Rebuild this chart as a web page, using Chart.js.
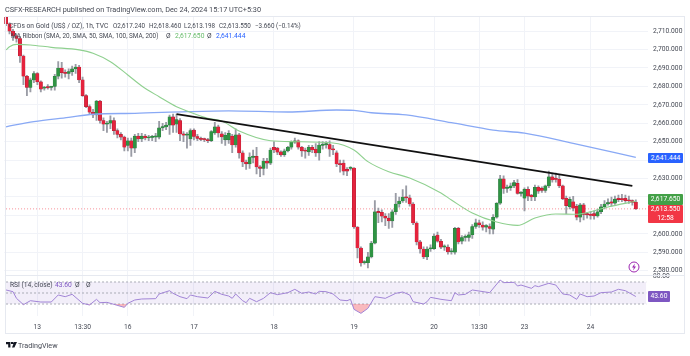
<!DOCTYPE html>
<html><head><meta charset="utf-8">
<script src="https://cdn.jsdelivr.net/npm/chart.js@4"></script>
<style>
html,body{margin:0;padding:0;background:#fff;overflow:hidden}
#wrap{position:relative;width:690px;height:356px;font-family:Roboto,sans-serif;color:#454954}
canvas{position:absolute;left:0;top:0}
.t{position:absolute;white-space:pre;font-size:6.7px;line-height:9px}
.v{font-size:6.3px}
.box{position:absolute;box-sizing:border-box}
.tag{position:absolute;left:648px;width:35px;color:#fff;font-size:6.7px;text-align:center;border-radius:1px}
</style></head><body>
<div id="wrap">
<canvas id="c" width="690" height="356"></canvas>
<div class="box" style="left:5px;top:16px;width:680px;height:318px;border:1px solid #e6e9f0"></div>
<div class="box" style="left:5px;top:275px;width:680px;height:1px;background:#e6e9f0"></div>
<div class="t" style="left:5px;top:5px;font-size:7.3px">CSFX-RESEARCH published on TradingView.com, Dec 24, 2024 15:17 UTC+5:30</div>
<div class="t" style="left:9px;top:22px">CFDs on Gold (US$ / OZ), 1h, TVC</div>
<div class="t v" style="left:113px;top:22px">O2,617.240</div>
<div class="t v" style="left:149px;top:22px">H2,618.460</div>
<div class="t v" style="left:184px;top:22px">L2,613.198</div>
<div class="t v" style="left:219px;top:22px">C2,613.550</div>
<div class="t v" style="left:255px;top:22px">−3.660 (−0.14%)</div>
<div class="t" style="left:11px;top:32px;font-size:6.4px">MA Ribbon (SMA, 20, SMA, 50, SMA, 100, SMA, 200)</div>
<div class="t" style="left:166px;top:32px">Ø</div>
<div class="t" style="left:175px;top:32px;color:#66bb6a">2,617.650</div>
<div class="t" style="left:207px;top:32px">Ø</div>
<div class="t" style="left:216px;top:32px;color:#2962ff">2,641.444</div>
<div class="t" style="left:10px;top:281px">RSI (14, close)</div>
<div class="t" style="left:55px;top:281px;color:#7e57c2">43.60</div>
<div class="t" style="left:75px;top:281px">Ø</div>
<div class="t" style="left:86px;top:281px">Ø</div>
<div class="tag" style="top:153px;height:10px;line-height:10px;background:#2962ff">2,641.444</div>
<div class="tag" style="top:194px;height:11px;line-height:11px;background:#43a047">2,617.650</div>
<div class="tag" style="top:205px;height:18px;line-height:9px;background:#f23645">2,613.550<br>12:58</div>
<div class="tag" style="top:291px;width:22px;left:648px;height:11px;line-height:11px;background:#7e57c2">43.60</div>
<svg class="box" style="left:628px;top:261px" width="12" height="12" viewBox="0 0 12 12"><circle cx="6" cy="6" r="5" fill="#fff" stroke="#9c27b0" stroke-width="1"/><path d="M6.8 2.6 4 6.6h1.8L5.2 9.4 8 5.4H6.2z" fill="#9c27b0"/></svg>
<svg class="box" style="left:6px;top:342px" width="11" height="6" viewBox="0 0 11 6"><path d="M0 0h4.4v5.5H2.2V2.2H0zM5 0h1.8a1 1 0 0 1 0 2H5zM8.2 0H11L8.4 5.5H6z" fill="#131722"/></svg>
<div class="t" style="left:18px;top:341px;font-size:7.2px">TradingView</div>
</div>
<script>
const opens=[2717.5,2714,2710,2707.5,2706,2696.5,2685.5,2679.5,2683.5,2687,2682.5,2679,2679.5,2679.5,2680,2685.5,2690,2687.5,2687,2688,2689.5,2690.5,2683.5,2675,2669,2666,2664.5,2672,2661.5,2659.5,2660,2661.5,2656,2654,2652.5,2648,2650.5,2646.5,2653,2651.5,2653,2652,2652.3,2652.5,2652.5,2657.5,2658,2659,2663.5,2659.5,
2661.5,2654.2,2653.5,2651.5,2656.3,2652.8,2651.8,2651.2,2651,2650.5,2654.7,2658,2654.2,2651,2651,2653,2648.2,2653.7,2643.9,2639,2638,2641.5,2642,2636.3,2635.5,2639.5,2638.4,2647,2646.5,2644.5,2643,2645,2647,2649.8,2650.5,2647,2645,2644.5,2647,2646,2643.9,2648,2648.3,2648.5,2646,2644,2638,2638.4,2635,2635.5,
2635.7,2603.7,2592.3,2584.3,2584.3,2587.5,2595,2612,2611.7,2609.6,2608.5,2607,2612,2616.2,2617.8,2620,2619.5,2616.2,2605.9,2595.6,2591.8,2587.5,2591.8,2592,2599.3,2596,2592.8,2592.8,2590.2,2590,2603,2596,2598,2598,2599.5,2604,2606,2604.8,2603.6,2603.9,
2602.5,2609,2616.6,2629.8,2624.7,2625,2626,2627.4,2622,2619.3,2624.2,2621,2620,2625.3,2624.7,2623.6,2626,2631,2630.2,2629.6,2626,2619.3,2614.7,2617.4,2615,2609,2615.7,2610.6,2610.5,2611,2609.7,2612,2614.7,2616.2,2617.4,2616.6,2619.3,2618.8,2619.3,2618,2618,2617.24];
const highs=[2718,2714.5,2711,2708.5,2707,2697,2686,2684.5,2688,2687.5,2683,2680,2681,2680,2686.5,2693.5,2693,2689,2689.5,2691,2692,2691.5,2685,2675.5,2670,2667.5,2672.5,2672.5,2663,2661,2664,2663,2657,2655,2653,2652,2652,2654,2654.5,2654.5,2654,2653.5,2653.5,2654.5,2661,2660,2660.5,2664.5,2665,2665,
2662.5,2655.5,2655,2657,2657,2654,2652.5,2652,2651.8,2656,2660.5,2659,2655.5,2655,2656,2654,2657,2654.5,2645,2640,2644,2645.5,2647,2637,2641,2641,2646.5,2650,2647,2645,2646,2647.5,2650.5,2652,2651,2647.5,2646.5,2648,2648,2649,2650,2650,2650,2650.5,2648,2645,2640,2640,2636,2636.5,
2636,2604,2593,2585.5,2590,2596,2618,2614,2613,2611,2611,2613,2622,2620,2624,2626,2621,2617,2606.5,2596.5,2593,2593,2594,2600,2601,2597,2594,2594,2592,2603.5,2603.5,2599,2599.5,2601,2605,2608,2607.5,2606.5,2605,2605.5,
2610.5,2617,2631.8,2631.5,2626.5,2627.5,2629,2629.5,2623,2625,2625.5,2621.5,2626.5,2626,2625.5,2626.5,2634,2633,2633,2632,2626.5,2620.5,2620,2620.3,2616,2616.5,2616.5,2611.5,2612,2612.5,2613.5,2616,2618,2619,2620,2620.5,2621,2621.5,2621,2620.5,2618.5,2618.46];
const lows=[2713,2708.5,2705,2704,2693,2681,2675,2677,2682,2681,2677,2678,2678.5,2678,2678,2684,2684.5,2685,2684,2686,2687,2682,2674.5,2668.5,2665,2663,2661.5,2660,2656,2655,2657,2654,2652,2651,2645,2645,2642,2644,2650,2650,2651,2650.5,2650.5,2650,2651.5,2656,2656.5,2654,2655,2655,
2650.5,2650,2646.5,2648,2651,2650.5,2650.5,2650,2649.5,2650,2654,2652.5,2649,2648,2649,2644,2647,2641,2636.5,2635,2635.5,2638.5,2632.5,2631,2632,2635.5,2637.5,2644,2643,2642,2642,2644.5,2646,2649,2646,2642,2641,2642.5,2644,2642,2640,2646,2646.5,2642,2643,2636.5,2633.5,2632,2631.5,2634.5,
2603,2587,2582.5,2583.5,2581.5,2587,2594.5,2606,2606.5,2604.5,2603,2603.5,2610.5,2614.5,2617,2617,2615,2605,2594,2589.5,2586.5,2586,2590.5,2591.5,2595.5,2592,2591,2589,2589,2589,2594.5,2594.5,2596,2596,2597.5,2603,2603.5,2602,2601,2600,
2600,2608.5,2616,2622,2622.5,2623.5,2625,2621.5,2620.5,2612.5,2618,2618,2618,2622,2622.5,2622.5,2625,2628,2628,2625,2618.5,2611,2613.5,2612.5,2607.5,2606.5,2607.5,2608.5,2608,2608,2609,2611,2613.5,2615.5,2615,2616,2617.5,2617.5,2617,2616.5,2615.5,2613.198];
const closes=[2714,2710,2707.5,2706,2696.5,2685.5,2679.5,2683.5,2687,2682.5,2678.5,2679.5,2679.2,2680,2685.5,2690,2687.5,2687,2688,2689.5,2690.5,2683.5,2675,2669,2666,2664.5,2672,2661.5,2659.5,2660,2661.5,2656,2654,2652.5,2647,2650.5,2646.5,2653,2651.5,2653,2652,2652.3,2652.5,2653,2657.5,2658,2659,2663.5,2659,2662,
2654.2,2653.5,2653.8,2656,2652.8,2651.8,2651.2,2651,2650.5,2655.5,2658,2654.7,2652.6,2653.5,2654.5,2648.2,2653.7,2643.9,2639,2638,2641.7,2642,2636.3,2635.5,2639.5,2638.4,2645.5,2645.5,2644.3,2642.8,2645,2647,2649.8,2650.5,2647,2645,2644.8,2647,2645.5,2643.9,2648.2,2648.5,2648.7,2646,2645.5,2637.9,2637.5,2634,2634,2635.7,
2603.7,2592.3,2584.2,2584.5,2587.5,2595,2612,2611.5,2609.6,2608.5,2607,2612,2616.2,2617.8,2620,2619.5,2616.2,2605.9,2595.6,2591.8,2587.5,2591.8,2592.4,2598.8,2596,2592.8,2592.8,2590.2,2590.5,2603,2595.6,2598,2598.4,2599.5,2604,2606,2605,2603.6,2604.5,2603,
2609,2616.6,2629.8,2624.7,2625.3,2626,2627.8,2622,2622.5,2624.2,2620.5,2620,2625.3,2623.2,2623.6,2626,2631,2629.2,2629.5,2626,2619,2615.3,2618.7,2613.9,2609,2615.7,2610.6,2610.3,2610,2609.7,2612,2614.7,2616.2,2617,2616.6,2618.8,2618.6,2618.5,2618,2617.8,2617.1,2613.55];
const sma50Index=[0,1,3,7,13,21,25,30,35,39,44,49,52,58,62,67,76,83,94,100,104,110,116,125,128,134,141,147,152,158,164,168,173,181];
const sma50Values=[2699.8,2701.5,2702.8,2702.5,2701.2,2699.8,2698,2693.4,2686.2,2680.2,2674.4,2669,2666.7,2662.7,2661.2,2655.8,2650.5,2650,2649.3,2645.5,2639.2,2633.7,2630.3,2622.2,2618.4,2611.3,2606.4,2604.6,2608.6,2610.8,2610.6,2612,2614.6,2617.65];
const sma200Index=[0,8,18,25,37,52,64,81,95,100,105,115,128,140,149,163,181];
const sma200Values=[2658.1,2660.9,2663.2,2664.9,2665.4,2666.3,2666.7,2666.1,2667.2,2667,2665.7,2664.5,2660.3,2656.3,2654.6,2649.1,2641.44];
const trendIndex=[49,180];
const trendValues=[2665,2626];
const rsiIndex=[0,2,3,5,7,10,13,15,17,19,22,24,26,27,29,31,34,35,37,39,43,44,47,48,50,52,53,55,58,60,62,64,65,66,68,69,70,72,74,76,78,81,83,85,87,89,90,92,94,96,98,99,100,102,104,106,109,112,114,116,117,120,121,122,125,128,129,130,132,134,139,142,143,146,147,148,151,152,153,156,158,160,162,164,165,167,169,171,174,176,178,181];
const rsiValues=[55.5,52.4,40.3,28.8,36,33.6,33.6,46.4,43.3,47.6,31.2,28.2,38.5,32.4,33,29.4,23.9,31.2,37.3,39.1,39.7,48.2,54.2,49.4,43.3,39.7,46.4,43.3,40.9,53,47.6,44.5,40.3,48.2,36,32.4,40.3,34.2,40.3,50.6,47,50.6,56.7,49.4,51.8,48.2,53,52.4,48.2,37.3,36,38.5,20.3,13,22.1,43.3,40.3,49.4,51.8,46.4,34.2,30,34.2,42.1,38.5,36,50.6,46.4,47.6,55.5,50.6,73.6,68.8,69.4,62.7,64.5,58.5,63.3,61.5,67.6,64.5,48.2,46.4,38.5,48.2,43.3,44.5,50.6,51.8,56.7,54.2,43.6];
const priceTicks=[2580,2590,2600,2610,2620,2630,2640,2650,2660,2670,2680,2690,2700,2710];
const rsiTicks=[80];
const dateTickIndex=[9,22,35,54,77,100,123,136,149,168];
const dateTickLabels=['13','13:30','16','17','18','19','20','13:30','23','24'];
const rsiBandLevels=[70,50,30];
const lastClose=2613.55;
const slotCount=185;

const labels=Array.from({length:slotCount},(_,i)=>i);
const UP='#2f9443',DOWN='#e5233d',UPB='#26713a',DOWNB='#a61d31';
const pts=(ix,vals)=>ix.map((x,k)=>({x:x,y:vals[k]}));
const isUp=i=>closes[i]>=opens[i];
const bands=rsiBandLevels.map((lv,k)=>({
  type:'line',yAxisID:'yRsi',data:[{x:0,y:lv},{x:slotCount-1,y:lv}],
  borderColor:'#a9abb5',borderWidth:1,borderDash:[2,2],pointRadius:0,order:8,
  fill:k===2?{target:6,above:'rgba(126,87,194,0.10)',below:'rgba(126,87,194,0.10)'}:false
}));
const data={labels,datasets:[
 {type:'bar',label:'wicks',data:lows.map((l,i)=>[l,highs[i]]),backgroundColor:'#9a9ca5',barThickness:1.2,grouped:false,order:6,yAxisID:'y'},
 {type:'bar',label:'bodies',data:opens.map((o,i)=>[o,closes[i]]),
  backgroundColor:opens.map((_,i)=>isUp(i)?UP:DOWN),borderColor:opens.map((_,i)=>isUp(i)?UPB:DOWNB),borderWidth:0.4,borderSkipped:false,
  barThickness:3.3,minBarLength:1.2,grouped:false,order:5,yAxisID:'y'},
 {type:'line',label:'last',data:[{x:0,y:lastClose},{x:slotCount-1,y:lastClose}],borderColor:'rgba(242,54,69,0.55)',borderWidth:1,borderDash:[1,2],pointRadius:0,order:7,yAxisID:'y'},
 {type:'line',label:'SMA50',data:pts(sma50Index,sma50Values),borderColor:'#8fd08f',borderWidth:1.1,pointRadius:0,cubicInterpolationMode:'monotone',order:3,yAxisID:'y'},
 {type:'line',label:'SMA200',data:pts(sma200Index,sma200Values),borderColor:'#89a9f5',borderWidth:1.3,pointRadius:0,cubicInterpolationMode:'monotone',order:3,yAxisID:'y'},
 {type:'line',label:'trend',data:pts(trendIndex,trendValues),borderColor:'#111',borderWidth:1.7,pointRadius:0,order:2,yAxisID:'y'},
 bands[0],bands[1],bands[2],
 {type:'line',label:'RSI',data:pts(rsiIndex,rsiValues),borderColor:'#a184d6',borderWidth:1,pointRadius:0,order:1,yAxisID:'yRsi',
  fill:{target:{value:30},above:'rgba(0,0,0,0)',below:'rgba(242,100,110,0.45)'}}
]};
const tickFont={family:'Roboto',size:6.7};
new Chart(document.getElementById('c'),{
 type:'bar',data,
 options:{responsive:false,animation:false,events:[],
  layout:{padding:{left:4.3,top:16,right:0,bottom:0}},
  plugins:{legend:{display:false},tooltip:{enabled:false},title:{display:false}},
  scales:{
   x:{type:'category',offset:true,position:'bottom',
      grid:{color:'#f1f3f8',drawTicks:false,offset:false},border:{display:false},
      afterBuildTicks(s){s.ticks=dateTickIndex.map(v=>({value:v}));},
      afterFit(s){s.height=40;},
      ticks:{autoSkip:false,maxRotation:0,padding:7,color:'#454954',font:tickFont,
        callback(v){const k=dateTickIndex.indexOf(v);return k<0?'':dateTickLabels[k];}}},
   y:{type:'linear',position:'right',stack:'pane',stackWeight:259,min:2577.67,max:2718.2,
      grid:{color:'#f1f3f8',drawTicks:false},border:{display:false},
      afterBuildTicks(s){s.ticks=priceTicks.map(v=>({value:v}));},
      afterFit(s){s.width=42;},
      ticks:{padding:5,color:'#454954',font:tickFont,callback(v){return v.toLocaleString('en-US',{minimumFractionDigits:3,maximumFractionDigits:3});}}},
   yRsi:{type:'linear',position:'right',stack:'pane',stackWeight:41,min:8.2,max:82.7,
      grid:{display:false,drawTicks:false},border:{display:false},
      afterBuildTicks(s){s.ticks=rsiTicks.map(v=>({value:v}));},
      afterFit(s){s.width=42;},
      ticks:{padding:5,color:'#454954',font:tickFont,callback(v){return v.toFixed(2);}}}
  }
 }
});
</script>
</body></html>
